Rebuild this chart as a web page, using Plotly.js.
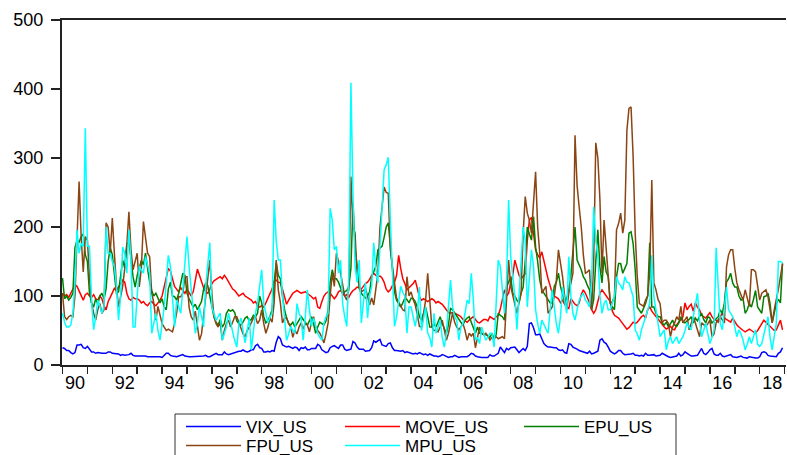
<!DOCTYPE html>
<html><head><meta charset="utf-8">
<script src="https://cdn.plot.ly/plotly-3.0.1.min.js"></script>
<style>html,body{margin:0;padding:0;background:#fff;} #chart{width:787px;height:455px;}</style>
</head><body><div id="chart"></div>
<script>
// Monthly data, Jan 1990 .. Dec 2018 (one line per year)
const startYear = 1990;

const VIX_US = [
25,24,21,21,18,16,18,29,29,30,25,24,
27,22,19,19,17,18,17,17,17,17,19,19,
17,17,16,16,14,15,14,14,15,17,14,13,
13,14,13,13,13,12,12,12,12,12,13,12,
11,14,17,17,14,13,12,12,13,14,15,13,
12,12,12,12,13,13,12,13,13,14,12,12,
14,16,17,15,15,15,19,16,15,16,17,19,
19,20,20,22,20,19,20,22,22,28,30,25,
24,19,19,20,19,21,20,33,41,38,29,27,
26,27,25,24,26,25,21,25,24,26,22,22,
24,24,24,30,28,22,20,18,19,25,27,28,
26,24,29,29,23,21,22,23,34,32,26,23,
23,23,20,20,21,25,35,33,35,37,29,28,
27,31,32,25,21,21,20,20,21,18,19,18,
16,16,17,16,18,16,15,16,14,16,14,13,
13,12,13,15,14,12,11,12,12,14,12,11,
12,12,11,12,14,17,16,13,12,11,11,11,
11,11,15,13,13,15,17,26,21,18,24,22,
25,26,26,22,18,21,24,21,27,60,61,54,
44,44,45,38,31,28,26,26,25,25,25,22,
21,22,18,17,31,30,26,25,23,21,20,18,
18,17,20,16,17,19,20,36,38,33,31,26,
20,18,16,18,21,21,17,15,15,16,16,17,
14,14,13,14,13,17,14,14,15,15,13,14,
14,17,15,14,12,11,12,13,13,17,13,15,
19,17,15,13,13,14,14,19,24,17,15,18,
22,24,16,14,14,17,13,12,13,15,15,12,
11,11,12,13,11,11,10,12,11,10,10,10,
12,18,19,18,14,13,13,12,12,17,19,25
];

const MOVE_US = [
104,100,102,98,104,110,116,114,108,100,94,102,
104,100,98,102,96,94,100,96,86,80,92,98,
104,111,108,114,118,123,120,104,96,94,98,96,
96,94,90,92,88,86,90,92,88,86,90,94,
100,112,128,140,136,126,114,110,106,112,108,104,
110,104,100,106,120,139,130,120,112,106,104,110,
118,122,124,126,128,125,130,126,120,116,110,108,
104,100,102,104,100,98,96,94,90,92,86,84,
86,84,90,96,104,110,122,123,120,119,110,100,
88,94,100,104,106,108,106,104,105,106,104,102,
99,96,98,84,82,92,100,104,106,104,100,96,
100,106,108,104,100,102,98,104,108,110,113,112,
110,114,118,120,124,130,133,130,128,129,126,120,
110,106,109,115,120,130,159,140,125,118,109,112,
115,118,123,110,99,94,96,94,92,94,96,94,
90,92,90,88,84,80,76,75,76,75,74,72,
70,66,64,62,65,68,70,66,62,61,64,66,
66,64,70,68,66,70,72,81,94,109,100,104,
119,130,152,141,130,125,128,132,180,210,214,190,
167,160,155,164,150,138,125,115,104,100,98,96,
90,94,88,84,82,96,92,88,86,90,102,109,
104,98,90,80,75,80,92,104,109,104,100,96,
92,78,72,70,68,64,60,56,52,54,58,62,
60,62,66,70,72,68,80,84,78,74,70,66,
62,58,55,52,54,56,52,51,58,62,65,70,
90,80,85,88,78,90,84,80,72,70,68,72,
76,70,66,65,62,70,75,68,66,64,62,68,
62,58,55,52,50,48,50,52,50,48,46,50,
56,60,65,62,58,56,52,50,51,58,65,51
];

const EPU_US = [
126,96,100,94,98,104,170,181,178,186,190,160,
150,104,90,84,96,88,100,104,96,110,150,170,
160,130,104,106,130,152,140,175,180,150,128,113,
130,140,152,145,162,140,120,108,100,104,98,90,
96,84,80,110,120,100,99,94,104,120,133,130,
104,96,90,84,88,80,86,92,110,119,115,100,
84,70,62,58,66,55,60,75,80,78,80,76,
64,60,58,62,68,70,64,66,72,70,75,100,
90,70,61,64,71,80,120,148,130,125,100,80,
68,60,58,62,55,60,64,70,66,62,58,64,
70,60,46,55,62,60,58,64,80,120,138,125,
125,120,111,104,106,108,114,140,235,170,143,111,
104,100,97,100,106,128,135,143,167,170,172,185,
200,206,172,130,106,94,88,84,90,97,95,90,
97,96,92,84,70,65,75,84,70,55,55,60,
55,62,70,60,52,46,58,82,80,75,72,65,
62,58,65,68,70,62,55,46,55,46,46,44,
44,42,40,46,38,44,75,72,70,65,113,120,
128,104,100,94,90,104,113,150,200,190,181,215,
171,150,123,109,104,99,94,90,90,114,120,133,
114,100,90,96,109,130,167,200,152,145,138,128,
123,115,109,80,95,150,196,142,119,157,135,128,
89,84,80,128,147,147,133,140,147,191,193,176,
138,84,80,75,82,89,100,177,84,84,75,70,
70,61,58,62,55,60,65,58,56,61,70,62,
61,64,66,70,61,68,64,70,75,66,61,70,
68,61,64,66,70,80,75,90,120,125,133,119,
113,113,100,94,96,75,80,89,84,95,108,84,
80,75,99,100,104,89,61,75,89,95,90,147
];

const FPU_US = [
104,70,66,70,72,70,100,196,266,186,135,186,
181,128,90,75,65,80,89,75,80,206,200,162,
213,162,114,84,100,114,140,174,222,167,138,150,
162,113,140,208,180,162,157,104,90,65,85,70,
60,55,50,52,50,48,60,75,99,99,104,128,
128,84,70,65,78,60,36,45,70,99,120,152,
104,70,60,55,62,36,50,60,65,55,62,70,
70,61,55,45,41,50,55,62,68,70,60,65,
80,60,46,55,68,62,90,152,109,90,61,68,
68,60,55,40,50,45,55,61,52,60,58,48,
62,70,55,50,46,40,32,45,61,100,133,114,
162,150,133,114,100,94,110,273,200,191,128,115,
106,108,111,100,87,97,87,110,133,200,230,258,
250,249,167,140,119,97,92,87,80,78,128,100,
106,95,87,73,56,55,75,94,133,94,55,50,
50,48,55,65,50,36,46,60,75,62,55,51,
56,60,50,36,46,42,46,25,40,55,46,44,
46,42,36,40,38,41,38,40,41,38,94,152,
114,100,84,75,90,104,191,244,220,210,191,230,
280,200,162,104,110,114,75,80,84,100,123,167,
150,128,100,80,104,120,133,333,260,229,200,160,
133,135,138,80,150,322,300,240,133,210,167,120,
89,92,99,196,205,220,191,210,340,372,374,302,
191,128,89,87,85,94,100,133,268,119,109,95,
89,61,65,65,60,41,55,61,70,65,85,61,
65,70,51,60,70,61,50,41,61,58,56,60,
65,41,45,61,65,70,65,61,142,160,167,167,
140,119,109,100,94,109,95,85,138,138,135,110,
94,104,106,109,99,80,61,80,94,110,128,147
];

const MPU_US = [
75,62,55,55,58,75,120,196,162,176,172,343,
172,172,94,51,70,94,85,75,84,200,162,162,
150,143,114,65,100,171,162,133,196,152,55,55,
100,143,138,133,157,145,133,46,60,75,50,36,
60,84,120,159,143,100,55,94,85,75,110,150,
186,143,110,84,46,60,84,70,55,114,150,177,
84,75,65,70,75,36,45,55,75,60,46,35,
26,60,68,50,32,50,68,22,50,75,90,113,
138,89,75,61,70,75,239,180,152,152,100,68,
36,45,56,50,46,89,75,68,36,70,109,80,
56,68,55,46,40,36,61,70,75,227,210,167,
172,133,152,89,70,56,133,409,246,143,120,152,
61,90,119,68,100,114,177,140,119,172,230,283,
290,301,210,130,56,70,90,114,105,100,46,84,
84,70,56,75,113,50,65,84,46,40,26,75,
46,55,65,40,26,46,80,123,84,70,65,36,
55,60,75,94,89,133,94,36,40,31,55,45,
36,40,46,46,26,90,152,143,110,75,123,239,
157,123,100,51,94,150,200,181,84,120,167,143,
80,60,46,65,58,51,46,80,109,84,60,46,
70,113,90,75,157,100,75,65,80,94,100,104,
94,90,84,123,229,180,157,100,75,89,94,80,
80,89,100,128,119,115,109,128,120,119,110,99,
51,45,36,51,60,70,80,89,159,99,80,61,
41,46,51,22,35,41,31,36,41,31,36,41,
50,61,55,51,70,85,104,65,41,50,61,45,
31,40,51,170,109,60,51,80,113,80,75,70,
55,41,51,45,36,22,30,41,31,40,51,30,
27,31,45,61,70,40,22,41,60,150,150,148
];

const seriesNames = ['VIX_US','MOVE_US','EPU_US','FPU_US','MPU_US'];
const seriesColors = ['#0000ff','#ff0000','#008000','#8b4513','#00ffff'];
const seriesLegends = ['legend','legend2','legend3','legend4','legend5'];
const seriesData = [VIX_US, MOVE_US, EPU_US, FPU_US, MPU_US];

const yearTicks = [];
for (let y = 1990; y <= 2019; y++) yearTicks.push(y);
const labelYears = [1990,1992,1994,1996,1998,2000,2002,2004,2006,2008,2010,2012,2014,2016,2018];
const labelText = ['90','92','94','96','98','00','02','04','06','08','10','12','14','16','18'];

const dates = VIX_US.map((_, i) => startYear + i / 12);

const FONT = 'Liberation Sans, Arial, sans-serif';

const traces = seriesData.map((d, k) => ({
  type: 'scatter', mode: 'lines',
  x: dates, y: d,
  name: seriesNames[k],
  legend: seriesLegends[k],
  line: {color: seriesColors[k], width: 1.5},
  hoverinfo: 'skip'
}));

const W = 724, H = 345, L = 62, T = 20;
const px = v => (v - L) / W;
const py = v => (T + H - v) / H;

const legendBase = {
  yanchor: 'top', xanchor: 'left', orientation: 'v',
  bgcolor: 'rgba(0,0,0,0)', borderwidth: 0,
  font: {family: FONT, size: 17, color: '#000'},
  itemwidth: 55, tracegroupgap: 0
};
const leg = (xp, yp) => Object.assign({}, legendBase, {x: px(xp), y: py(yp)});

const layout = {
  width: 787, height: 455,
  margin: {l: L, r: 787 - L - W, t: T, b: 455 - T - H, pad: 0, autoexpand: false},
  paper_bgcolor: '#fff', plot_bgcolor: '#fff',
  font: {family: FONT, size: 18, color: '#000'},
  showlegend: true,
  xaxis: {
    range: [1990 - 0.5/24.9, 1990 - 0.5/24.9 + W/24.9],
    showgrid: false, zeroline: false,
    showline: true, linecolor: '#222', linewidth: 1.6, mirror: true,
    tickmode: 'array', tickvals: labelYears.map(y => y + 0.5), ticktext: labelText,
    ticks: '', ticklabelstandoff: 1,
    minor: {tickmode: 'array', tickvals: yearTicks, ticks: 'outside', ticklen: 7, tickwidth: 1.5, tickcolor: '#222'}
  },
  yaxis: {
    range: [0, 500], showgrid: false, zeroline: false,
    showline: true, linecolor: '#222', linewidth: 2,
    tickmode: 'array', tickvals: [0,100,200,300,400,500],
    ticks: 'outside', ticklen: 9, tickwidth: 1.5, tickcolor: '#222',
    ticklabelstandoff: 4
  },
  legend: leg(181, 409),
  legend2: leg(340, 409),
  legend3: leg(519, 409),
  legend4: leg(181, 428),
  legend5: leg(340, 428),
  shapes: [{
    type: 'rect', xref: 'paper', yref: 'paper',
    x0: px(175), x1: px(676), y0: py(414), y1: py(460),
    line: {color: '#333', width: 1}, fillcolor: 'rgba(0,0,0,0)'
  }]
};

Plotly.newPlot('chart', traces, layout, {staticPlot: true, displayModeBar: false});
</script>
</body></html>
